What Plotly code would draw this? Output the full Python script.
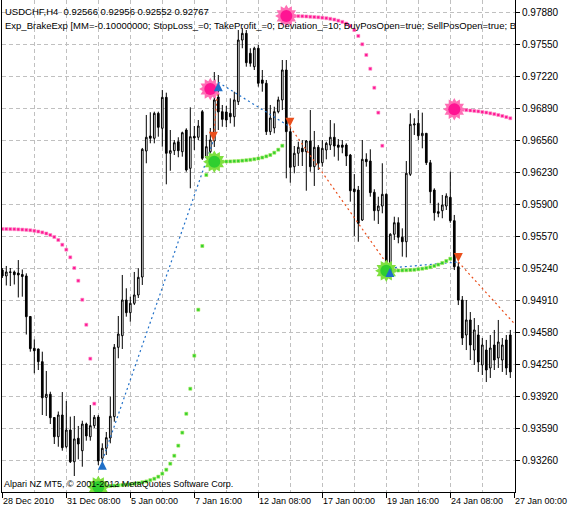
import plotly.graph_objects as go

# ---------------- data ----------------
bar = list(range(128))
open_ = [0.95219,0.95158,0.95194,0.95199,0.95188,0.95173,0.95158,0.94740,0.94412,0.94405,
         0.94274,0.93905,0.93938,0.93698,0.93500,0.93724,0.93397,0.93569,0.93242,0.93484,
         0.93356,0.93631,0.93500,0.93614,0.93703,0.93278,0.93381,0.93487,0.93707,0.94422,
         0.94542,0.94910,0.94779,0.94876,0.94962,0.95147,0.96447,0.96601,0.96578,0.96835,
         0.96681,0.97000,0.96423,0.96450,0.96542,0.96439,0.96663,0.96268,0.96598,0.96588,
         0.96852,0.96382,0.96439,0.96550,0.97003,0.96852,0.96849,0.96835,0.96800,0.96955,
         0.97591,0.97660,0.97454,0.97316,0.97506,0.97179,0.97145,0.96646,0.96684,0.96852,
         0.96973,0.97282,0.96646,0.96285,0.96423,0.96474,0.96439,0.96550,0.96285,0.96485,
         0.96326,0.96457,0.96508,0.96588,0.96508,0.96508,0.96508,0.96405,0.96055,0.96044,
         0.95735,0.96361,0.96343,0.96021,0.95831,0.95879,0.96000,0.95253,0.95588,0.95707,
         0.95557,0.95511,0.96206,0.96715,0.96732,0.96604,0.96629,0.96326,0.96044,0.95821,
         0.95831,0.95879,0.95969,0.95728,0.95253,0.94910,0.94549,0.94704,0.94394,0.94549,
         0.94240,0.94394,0.94209,0.94446,0.94312,0.94291,0.94498,0.94549]
high = [0.95240,0.95261,0.95240,0.95214,0.95322,0.95225,0.95185,0.94745,0.94503,0.94408,
        0.94377,0.94178,0.93964,0.93703,0.93760,0.93961,0.93868,0.93707,0.93714,0.93611,
        0.93665,0.93645,0.93827,0.93724,0.93724,0.93432,0.93549,0.93913,0.94456,0.94745,
        0.95168,0.95031,0.94944,0.95199,0.95237,0.96478,0.96818,0.96846,0.96852,0.96852,
        0.97076,0.97048,0.96663,0.96560,0.96588,0.96646,0.96681,0.96897,0.96704,0.96766,
        0.96869,0.96612,0.96684,0.97261,0.97230,0.96921,0.96911,0.96990,0.97058,0.97694,
        0.97715,0.97694,0.97506,0.97522,0.97540,0.97282,0.97179,0.96921,0.96903,0.97007,
        0.97385,0.97385,0.96697,0.96498,0.96542,0.96560,0.96560,0.96869,0.96653,0.96508,
        0.96560,0.96542,0.96766,0.96732,0.96570,0.96560,0.96526,0.96416,0.96209,0.96086,
        0.96560,0.96423,0.96464,0.96052,0.95975,0.96320,0.96010,0.95598,0.95769,0.95763,
        0.95649,0.96343,0.96835,0.96784,0.96869,0.96842,0.96632,0.96354,0.96062,0.95913,
        0.95993,0.96010,0.96233,0.95787,0.95302,0.94951,0.94910,0.94786,0.94724,0.94652,
        0.94518,0.94498,0.94549,0.94601,0.94704,0.94518,0.94549,0.94601]
low = [0.95137,0.95060,0.95054,0.95070,0.94936,0.94944,0.94554,0.94377,0.94154,0.94188,
       0.93724,0.93714,0.93631,0.93425,0.93397,0.93356,0.93381,0.93229,0.93095,0.93267,
       0.93191,0.93459,0.93459,0.93590,0.93208,0.93242,0.93312,0.93432,0.93655,0.94309,
       0.94405,0.94738,0.94686,0.94858,0.94931,0.95065,0.96320,0.96526,0.96526,0.96594,
       0.96491,0.96103,0.96243,0.96405,0.96382,0.96388,0.96233,0.96062,0.96457,0.96560,
       0.96354,0.96371,0.96423,0.96488,0.96663,0.96697,0.96694,0.96732,0.96697,0.96921,
       0.97506,0.97316,0.97316,0.97282,0.97110,0.97058,0.96612,0.96612,0.96629,0.96835,
       0.96869,0.96165,0.96120,0.96217,0.96292,0.96292,0.96037,0.96233,0.96086,0.96251,
       0.96285,0.96361,0.96457,0.96388,0.96347,0.96423,0.96292,0.95924,0.95570,0.95511,
       0.95725,0.96285,0.95975,0.95728,0.95694,0.95804,0.95219,0.95219,0.95529,0.95495,
       0.95357,0.95350,0.96189,0.96612,0.96560,0.96474,0.96302,0.95907,0.95728,0.95763,
       0.95753,0.95838,0.95707,0.95219,0.94858,0.94446,0.94394,0.94291,0.94240,0.94168,
       0.94137,0.94064,0.94106,0.94188,0.94209,0.94168,0.94137,0.94106]
close = [0.95158,0.95199,0.95199,0.95171,0.95168,0.95152,0.94738,0.94408,0.94387,0.94274,
         0.93902,0.93938,0.93696,0.93500,0.93724,0.93387,0.93569,0.93242,0.93477,0.93425,
         0.93631,0.93508,0.93614,0.93700,0.93250,0.93381,0.93490,0.93711,0.94422,0.94559,
         0.94910,0.94779,0.94876,0.94962,0.95144,0.96464,0.96588,0.96578,0.96835,0.96691,
         0.97000,0.96423,0.96450,0.96532,0.96450,0.96635,0.96251,0.96594,0.96581,0.96704,
         0.96371,0.96491,0.96560,0.96973,0.96849,0.96773,0.96766,0.96800,0.96973,0.97591,
         0.97660,0.97357,0.97351,0.97506,0.97145,0.97145,0.96646,0.96787,0.96852,0.96973,
         0.97282,0.96646,0.96278,0.96423,0.96485,0.96439,0.96550,0.96285,0.96485,0.96320,
         0.96474,0.96526,0.96588,0.96498,0.96485,0.96485,0.96395,0.96037,0.96027,0.95701,
         0.96361,0.96336,0.96017,0.95831,0.95879,0.96000,0.95253,0.95588,0.95707,0.95557,
         0.95511,0.96217,0.96722,0.96725,0.96604,0.96629,0.96326,0.96027,0.95810,0.95804,
         0.95890,0.95982,0.95728,0.95253,0.94910,0.94518,0.94704,0.94446,0.94601,0.94271,
         0.94446,0.94188,0.94415,0.94291,0.94477,0.94446,0.94209,0.94168]

tick_bars = [0, 16, 32, 48, 64, 80, 96, 112, 128]
tick_labels = ["28 Dec 2010", "31 Dec 08:00", "5 Jan 00:00", "7 Jan 16:00", "12 Jan 08:00",
               "17 Jan 00:00", "19 Jan 16:00", "24 Jan 08:00", "27 Jan 00:00"]
price_ticks = [0.97880, 0.97550, 0.97220, 0.96890, 0.96560, 0.96230, 0.95900, 0.95570,
               0.95240, 0.94910, 0.94580, 0.94250, 0.93920, 0.93590, 0.93260]
price_labels = ["0.97880", "0.97550", "0.97220", "0.96890", "0.96560", "0.96230", "0.95900",
                "0.95570", "0.95240", "0.94910", "0.94580", "0.94250", "0.93920", "0.93590",
                "0.93260"]

# BrakeExp stop lines
pink1_x = list(range(0, 24))
pink1_y = [0.95642,0.95642,0.95641,0.95640,0.95638,0.95636,0.95633,0.95629,0.95624,0.95616,
           0.95607,0.95596,0.95580,0.95560,0.95529,0.95480,0.95429,0.95350,0.95240,0.95109,
           0.94913,0.94655,0.94305,0.93841]
green1_x = list(range(24, 52))
green1_y = [0.92982,0.92987,0.92990,0.92993,0.92996,0.92999,0.93002,0.93006,0.93010,0.93016,
            0.93022,0.93030,0.93039,0.93052,0.93067,0.93088,0.93119,0.93160,0.93222,0.93304,
            0.93408,0.93542,0.93737,0.93995,0.94336,0.94810,0.95467,0.96199]
green2_x = list(range(53, 71))
green2_y = [0.96336,0.96336,0.96337,0.96338,0.96339,0.96341,0.96343,0.96347,0.96351,0.96356,
            0.96362,0.96369,0.96379,0.96391,0.96405,0.96429,0.96460,0.96501]
pink3_x = list(range(71, 96))
pink3_y = [0.97839,0.97839,0.97838,0.97837,0.97836,0.97834,0.97831,0.97828,0.97825,0.97821,
           0.97816,0.97810,0.97802,0.97791,0.97778,0.97761,0.97736,0.97694,0.97633,0.97547,
           0.97437,0.97295,0.97099,0.96842,0.96501]
green3_x = list(range(96, 113))
green3_y = [0.95212,0.95212,0.95213,0.95214,0.95215,0.95217,0.95219,0.95222,0.95227,0.95233,
            0.95240,0.95249,0.95261,0.95275,0.95292,0.95312,0.95336]
pink4_x = list(range(113, 128))
pink4_y = [0.96877,0.96875,0.96872,0.96868,0.96864,0.96860,0.96855,0.96849,0.96843,0.96835,
           0.96827,0.96818,0.96808,0.96796,0.96784]

pink_burst_x = [52, 71, 113]
pink_burst_y = [0.97086, 0.97839, 0.96877]
green_burst_x = [24, 53, 96]
green_burst_y = [0.92982, 0.96336, 0.95212]

# trades
buy_x = [25, 54, 96.9]
buy_y = [0.93253, 0.97155, 0.95240]
sell_x = [52.75, 71.9, 114]
sell_y = [0.96553, 0.96697, 0.95302]
last_exit_x = 135
last_exit_y = 0.94349

PINK = "#ff1493"
GREEN = "#2fcf2f"
BLUE = "#1f6fc8"
RED = "#ea4f1c"
FONT = "Liberation Sans"

fig = go.Figure()

fig.add_trace(go.Candlestick(
    x=bar, open=open_, high=high, low=low, close=close,
    increasing=dict(line=dict(color="black", width=1), fillcolor="white"),
    decreasing=dict(line=dict(color="black", width=1), fillcolor="black"),
    whiskerwidth=0, showlegend=False, hoverinfo="skip"))

# trade lines
bx, by = [], []
for i in range(3):
    bx += [buy_x[i], sell_x[i], None]
    by += [buy_y[i], sell_y[i], None]
rx = [sell_x[0], buy_x[1], None, sell_x[1], buy_x[2], None, sell_x[2], last_exit_x]
ry = [sell_y[0], buy_y[1], None, sell_y[1], buy_y[2], None, sell_y[2], last_exit_y]
fig.add_trace(go.Scatter(x=bx, y=by, mode="lines", line=dict(color=BLUE, width=1.2, dash="2px,3px"),
                         showlegend=False, hoverinfo="skip"))
fig.add_trace(go.Scatter(x=rx, y=ry, mode="lines", line=dict(color=RED, width=1.2, dash="2px,3px"),
                         showlegend=False, hoverinfo="skip"))

# indicator dots
for xs, ys, col, edge in [(pink1_x, pink1_y, PINK, "#ff8cc6"), (pink3_x, pink3_y, PINK, "#ff8cc6"),
                          (pink4_x, pink4_y, PINK, "#ff8cc6"),
                          (green1_x, green1_y, GREEN, "#9be84a"), (green2_x, green2_y, GREEN, "#9be84a"),
                          (green3_x, green3_y, GREEN, "#9be84a")]:
    fig.add_trace(go.Scatter(x=xs, y=ys, mode="markers",
                             marker=dict(symbol="square", size=3, color=col, line=dict(color=edge, width=0.6)),
                             showlegend=False, hoverinfo="skip"))

# bursts
for xs, ys, col, edge in [(pink_burst_x, pink_burst_y, PINK, "#ff6fb5"),
                          (green_burst_x, green_burst_y, GREEN, "#7fe040")]:
    for ang in (0, 30):
        fig.add_trace(go.Scatter(x=xs, y=ys, mode="markers",
                                 marker=dict(symbol="hexagram", size=17, angle=ang, color=edge, line=dict(width=0)),
                                 showlegend=False, hoverinfo="skip"))
    fig.add_trace(go.Scatter(x=xs, y=ys, mode="markers",
                             marker=dict(symbol="circle", size=12, color=col, line=dict(width=0)),
                             showlegend=False, hoverinfo="skip"))

# trade arrows
fig.add_trace(go.Scatter(x=buy_x, y=buy_y, mode="markers",
                         marker=dict(symbol="arrow-up", size=9, color=BLUE, line=dict(width=0)),
                         showlegend=False, hoverinfo="skip"))
fig.add_trace(go.Scatter(x=sell_x, y=sell_y, mode="markers",
                         marker=dict(symbol="arrow-down", size=9, color=RED, line=dict(width=0)),
                         showlegend=False, hoverinfo="skip"))

grid = dict(gridcolor="#c0c0c0", griddash="4px,3px", gridwidth=1)

fig.update_layout(
    width=568, height=512,
    margin=dict(l=2, r=53, t=0, b=20),
    paper_bgcolor="white", plot_bgcolor="white",
    font=dict(family=FONT, size=10, color="black"),
    boxgap=0.4,
    xaxis=dict(range=[-0.075, 128.175], tickmode="array", tickvals=tick_bars, showticklabels=False,
               ticks="outside", ticklen=5, tickcolor="black", showline=True, linecolor="black",
               linewidth=1, showgrid=True, zeroline=False, rangeslider=dict(visible=False),
               minor=dict(tickmode="linear", tick0=0, dtick=8, showgrid=True, ticklen=0, **grid),
               **grid),
    yaxis=dict(range=[0.9293, 0.9800375], side="right", tickmode="array", tickvals=price_ticks,
               ticktext=price_labels, ticks="outside", ticklen=4, tickcolor="black", showline=True,
               linecolor="black", linewidth=1, mirror=True, showgrid=True, zeroline=False,
               tickfont=dict(family=FONT, size=10, color="black"), **grid),
)

annotations = []
for b, t in zip(tick_bars, tick_labels):
    annotations.append(dict(x=b, y=0, xref="x", yref="paper", text=t, showarrow=False,
                            xanchor="left", yanchor="middle", yshift=-9, xshift=-1,
                            font=dict(family=FONT, size=9, color="black")))
annotations.append(dict(x=0, y=1, xref="paper", yref="paper", xanchor="left", yanchor="middle",
                        xshift=1, yshift=-11, showarrow=False,
                        text="USDCHF,H4\u00a0 0.92566 0.92956 0.92552 0.92767",
                        font=dict(family=FONT, size=9.5, color="black")))
annotations.append(dict(x=0, y=1, xref="paper", yref="paper", xanchor="left", yanchor="middle",
                        xshift=1, yshift=-25, showarrow=False,
                        text="Exp_BrakeExp [MM=-0.10000000; StopLoss_=0; TakeProfit_=0; Deviation_=10; "
                             "BuyPosOpen=true; SellPosOpen=true; B",
                        font=dict(family=FONT, size=9.5, color="black")))
annotations.append(dict(x=0, y=0, xref="paper", yref="paper", xanchor="left", yanchor="middle",
                        xshift=0, yshift=8.5, showarrow=False,
                        text="Alpari NZ MT5, \u00a9 2001-2012 MetaQuotes Software Corp.",
                        font=dict(family=FONT, size=9, color="black")))
fig.update_layout(annotations=annotations)

fig.write_html("out.html", config={"displayModeBar": False},
               post_script="document.body.style.margin='0';document.body.style.padding='0';")
